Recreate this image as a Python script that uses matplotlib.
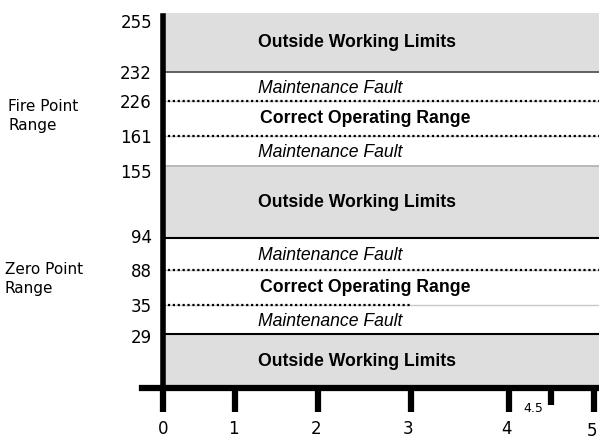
import numpy as np
import matplotlib
matplotlib.use("Agg")
import matplotlib.pyplot as plt
import matplotlib.transforms as mtransforms

# ---- data ----
y_tick_values = [29, 35, 88, 94, 155, 161, 226, 232, 255]
x_tick_values = [0, 1, 2, 3, 4, 5]
x_minor_value = [4.5]
x_minor_label = ["4.5"]

limit_bands = [(0, 29), (94, 155), (232, 255)]          # Outside Working Limits
fault_bands = [(29, 35), (88, 94), (155, 161), (226, 232)]
correct_bands = [(35, 88), (161, 226)]
band_labels = ["Outside Working Limits", "Maintenance Fault", "Correct Operating Range"]
range_labels = ["Fire Point\nRange", "Zero Point\nRange"]

# ---- schematic (non-linear) scale definitions: value -> relative pixel ----
y_scale_vals = np.array([0, 29, 35, 88, 94, 155, 161, 226, 232, 255], float)
y_scale_pos = np.array([0, 54, 83, 118, 150, 222, 252, 287, 316, 375], float)
x_scale_vals = np.array([-1, 0, 1, 2, 3, 4, 4.5, 5, 6], float)
x_scale_pos = np.array([91, 163, 235, 318, 411, 509, 551, 594, 680], float)


def make_funcs(vals, pos):
    def fwd(v):
        return np.interp(v, vals, pos)

    def inv(p):
        return np.interp(p, pos, vals)
    return fwd, inv


W, H = 599, 441
fig = plt.figure(figsize=(W / 100, H / 100), dpi=100)
ax = fig.add_axes([142 / W, (H - 388) / H, (599 - 142) / W, (388 - 13) / H])

ax.set_yscale("function", functions=make_funcs(y_scale_vals, y_scale_pos))
ax.set_xscale("function", functions=make_funcs(x_scale_vals, x_scale_pos))

xl, xr = -0.292, 5.058
ax.set_xlim(xl, xr)
ax.set_ylim(0, 255)

gray = "#dedede"
for lo, hi in limit_bands:
    ax.fill_between([0, xr], lo, hi, color=gray, lw=0, zorder=1)

# boundary lines
ax.plot([0, xr], [232, 232], color="#555555", lw=1.3, zorder=2)
ax.plot([0, xr], [155, 155], color="#b5b5b5", lw=1.3, zorder=2)
ax.plot([0, xr], [94, 94], color="black", lw=1.5, zorder=2)
ax.plot([0, xr], [29, 29], color="black", lw=1.5, zorder=2)

# dotted lines (correct range limits)
for lo, hi in correct_bands:
    for v in (lo, hi):
        ax.plot([0, xr], [v, v], color="#c8c8c8", lw=1.0, zorder=2)
        xend = xr if v != 35 else 3.0
        ax.plot([0, xend], [v, v], color="black", lw=1.6, dashes=(1.0, 1.2), zorder=3)

# band texts
tx = (258 - 142) / (599 - 142)
fy, _ = make_funcs(y_scale_vals, y_scale_pos)


def ycenter(lo, hi):
    return (fy(lo) + fy(hi)) / 2 / 375.0


FS = 12.7
for lo, hi in limit_bands:
    ax.text(tx, ycenter(lo, hi), band_labels[0], transform=ax.transAxes,
            ha="left", va="center", fontsize=FS, fontweight="bold",
            family="Liberation Sans", zorder=4)
for lo, hi in fault_bands:
    ax.text(tx, ycenter(lo, hi) - 0.004, band_labels[1], transform=ax.transAxes,
            ha="left", va="center", fontsize=FS, fontstyle="italic",
            family="Liberation Sans", zorder=4)
for lo, hi in correct_bands:
    ax.text(tx + 0.004, ycenter(lo, hi), band_labels[2], transform=ax.transAxes,
            ha="left", va="center", fontsize=FS, fontweight="bold",
            family="Liberation Sans", zorder=4)

# range labels at left (figure pixels)
fig.text(8 / W, 1 - 116 / H, range_labels[0], ha="left", va="center",
         fontsize=11, linespacing=1.35)
fig.text(5 / W, 1 - 279 / H, range_labels[1], ha="left", va="center",
         fontsize=11, linespacing=1.35)

# spines
for s in ("top", "right"):
    ax.spines[s].set_visible(False)
ax.spines["left"].set_position(("data", 0))
ax.spines["left"].set_linewidth(4.0)
ax.spines["left"].set_bounds(0, 254)
ax.spines["left"].set_zorder(5)
ax.spines["bottom"].set_linewidth(4.5)
ax.spines["bottom"].set_zorder(5)

ax.set_yticks(y_tick_values)
ax.set_yticklabels([str(v) for v in y_tick_values])
ax.tick_params(axis="y", length=0, pad=8, labelsize=12)

ax.set_xticks(x_tick_values)
ax.set_xticklabels([str(v) for v in x_tick_values])
ax.tick_params(axis="x", which="major", length=17, width=4.5, pad=6, labelsize=12)
ax.set_xticks(x_minor_value, minor=True)
ax.tick_params(axis="x", which="minor", length=12, width=4.5)
ax.text(x_minor_value[0] - 0.09, -0.055, x_minor_label[0], transform=ax.get_xaxis_transform(),
        ha="right", va="center", fontsize=9, clip_on=False)

# small label nudges as in the reference
y_shift = {255: -8, 155: -5, 94: 2, 29: -2}
for val, lab in zip(y_tick_values, ax.get_yticklabels()):
    if val in y_shift:
        off = mtransforms.ScaledTranslation(0, y_shift[val] / 100, fig.dpi_scale_trans)
        lab.set_transform(lab.get_transform() + off)
x_shift = {5: (-2, -2), 2: (-2, 0), 3: (-3, 0), 4: (-3, 0), 1: (-2, 0)}
for val, lab in zip(x_tick_values, ax.get_xticklabels()):
    if val in x_shift:
        dx, dy = x_shift[val]
        off = mtransforms.ScaledTranslation(dx / 100, dy / 100, fig.dpi_scale_trans)
        lab.set_transform(lab.get_transform() + off)

fig.savefig("out.png", dpi=100)
